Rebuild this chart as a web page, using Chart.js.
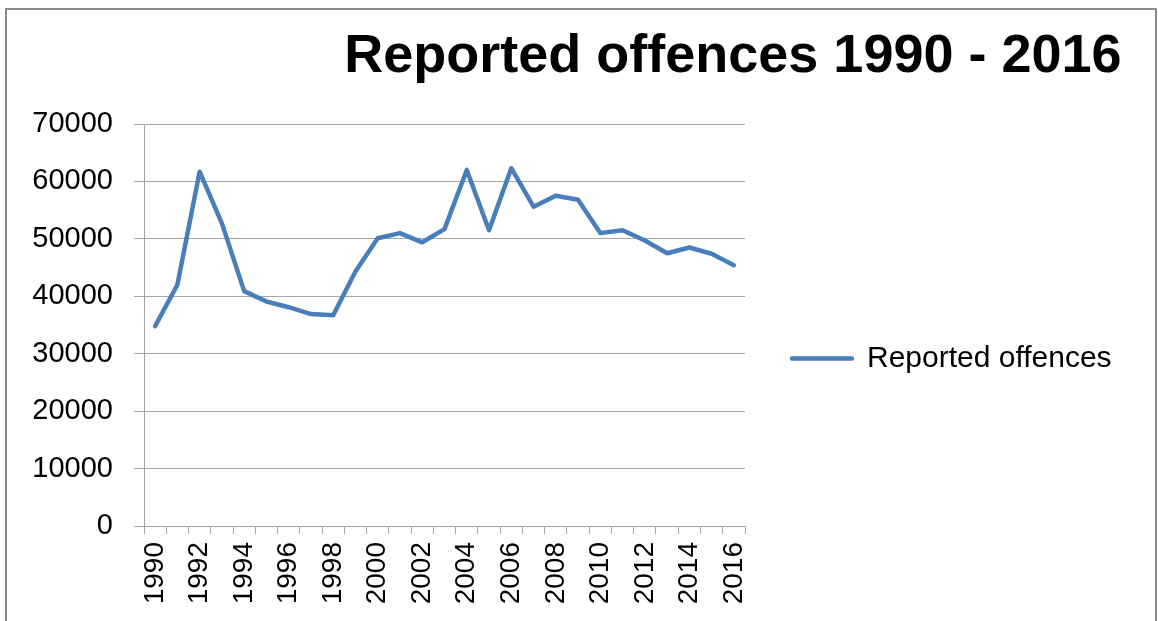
<!DOCTYPE html>
<html>
<head>
<meta charset="utf-8">
<script src="https://cdn.jsdelivr.net/npm/chart.js@4/dist/chart.umd.min.js"></script>
<style>
  html, body { margin: 0; padding: 0; background: #fff; }
  #frame {
    position: absolute; left: 5px; top: 8px; width: 1148px; height: 700px;
    border: 2px solid #8c8c8c; border-bottom: none;
  }
  #offencesChart { position: absolute; left: 0; top: 0; }
</style>
</head>
<body>
<div id="frame"></div>
<canvas id="offencesChart" width="1158" height="621"></canvas>
<script>
  // ── Data ──
  var years = ['1990','1991','1992','1993','1994','1995','1996','1997','1998','1999',
               '2000','2001','2002','2003','2004','2005','2006','2007','2008','2009',
               '2010','2011','2012','2013','2014','2015','2016'];
  var offences = [34800, 42000, 61700, 52700, 40900, 39100, 38100, 36900, 36700, 44300,
                  50100, 51000, 49400, 51700, 62000, 51500, 62300, 55600, 57500, 56800,
                  51000, 51500, 49700, 47500, 48500, 47400, 45400];
  var seriesName = 'Reported offences';
  var chartTitle = 'Reported offences 1990 - 2016';

  var FONT = "'Liberation Sans', Arial, sans-serif";
  var gridColor = '#a6a6a6';
  var lineColor = '#4a7ebb';

  // legend geometry: work out right padding so the plot ends at x=745
  var legendFont = 30, legendBox = 60, legendPad = 47;
  var m = document.createElement('canvas').getContext('2d');
  m.font = legendFont + 'px ' + FONT;
  var textW = m.measureText(seriesName).width;
  var legendW = legendPad + legendBox + legendFont / 2 + textW + 10;
  var padRight = 1158 - 745 - legendW;

  var ctx = document.getElementById('offencesChart').getContext('2d');
  var chart = new Chart(ctx, {
    type: 'line',
    data: {
      labels: years,
      datasets: [{
        label: seriesName,
        data: offences,
        borderColor: lineColor,
        backgroundColor: lineColor,
        borderWidth: 4.5,
        borderCapStyle: 'round',
        borderJoinStyle: 'round',
        pointRadius: 0,
        tension: 0,
        fill: false
      }]
    },
    options: {
      responsive: false,
      animation: false,
      layout: { padding: { top: 0, left: 0, bottom: 0, right: padRight } },
      plugins: {
        title: {
          display: true,
          text: chartTitle,
          align: 'end',
          color: '#000',
          font: { family: FONT, size: 54, weight: 'bold' },
          padding: { top: 25, bottom: 34.2 }
        },
        legend: {
          position: 'right',
          maxWidth: 600,
          title: { display: true, text: ' ', padding: 0, font: { size: 80, lineHeight: 1.2 } },
          labels: {
            boxWidth: legendBox,
            boxHeight: 0,
            padding: legendPad,
            color: '#000',
            font: { family: FONT, size: legendFont, lineHeight: 1 }
          }
        },
        tooltip: { enabled: false }
      },
      scales: {
        x: {
          offset: true,
          afterFit: function(scale) { scale.height = 95; },
          grid: {
            offset: true,
            drawOnChartArea: false,
            drawTicks: true,
            tickLength: 8,
            color: gridColor
          },
          border: { color: gridColor },
          ticks: {
            autoSkip: false,
            minRotation: 90,
            maxRotation: 90,
            padding: 8,
            color: '#000',
            font: { family: FONT, size: 28 },
            callback: function(val, i) { return i % 2 === 0 ? years[i] : ''; }
          }
        },
        y: {
          min: 0,
          max: 70000,
          afterFit: function(scale) { scale.width = 144; },
          grid: { color: gridColor, tickLength: 10 },
          border: { color: gridColor },
          ticks: {
            stepSize: 10000,
            padding: 21,
            color: '#000',
            font: { family: FONT, size: 29 },
            callback: function(val) { return String(val); }
          }
        }
      }
    }
  });
</script>
</body>
</html>
